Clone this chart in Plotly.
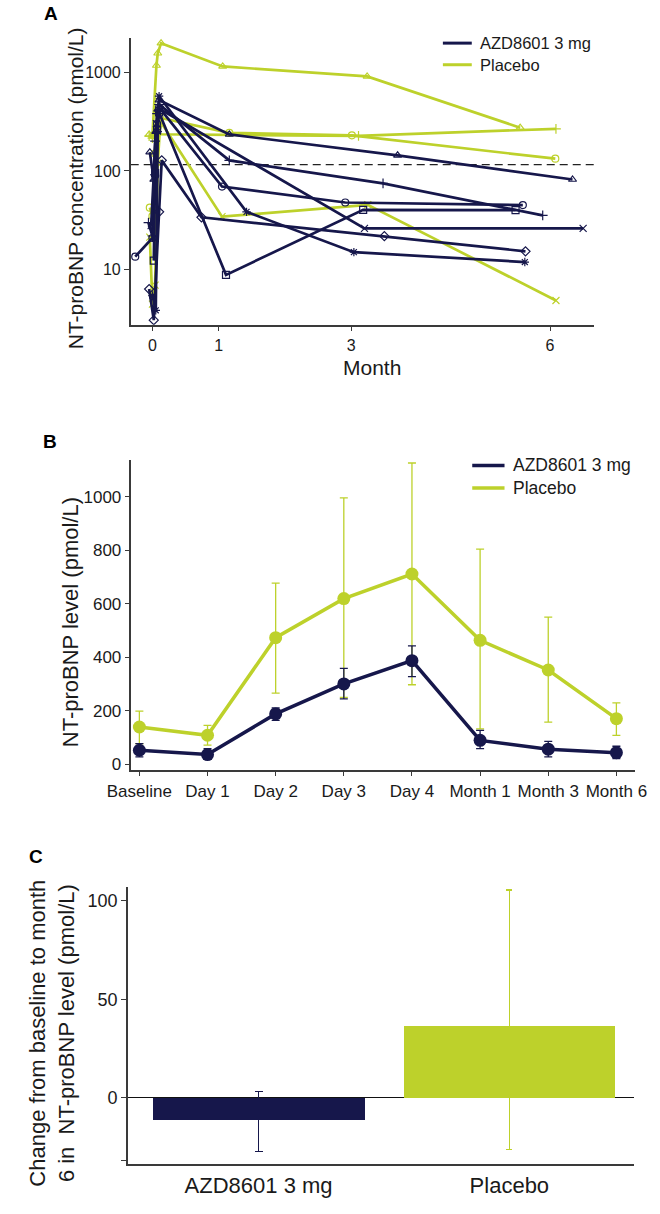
import plotly.graph_objects as go

NAVY = "#16174b"
GREEN = "#bdd12b"
AXIS = "#3a3a3a"
TXT = "#1a1a1a"
FONT = "Liberation Sans, Arial, sans-serif"
W, H = 660, 1214

# ---------------- Panel A: individual NT-proBNP (pmol/L) over months ----------------
azd1_month = [-0.04, 0.02, 0.05, 0.08, 0.10, 1.16, 3.70, 6.34]
azd1_val = [155, 82, 250, 420, 520, 234, 144, 82]
azd2_month = [-0.06, 0.00, 0.04, 0.07, 0.10, 1.16, 3.48, 5.89]
azd2_val = [30, 22, 200, 380, 470, 128, 75, 35.5]
azd3_month = [-0.26, 0.00, 0.04, 0.07, 0.10, 1.05, 2.91, 5.59]
azd3_val = [13.6, 21, 90, 300, 440, 69.6, 48, 45.2]
azd4_month = [0.02, 0.04, 0.07, 0.10, 1.11, 3.18, 5.48]
azd4_val = [12.4, 95, 260, 390, 8.9, 40.5, 40.2]
azd5_month = [-0.02, 0.02, 0.06, 0.12, 3.20, 6.50]
azd5_val = [28, 85, 300, 420, 26.3, 26.3]
azd6_month = [-0.05, 0.02, 0.10, 0.14, 0.74, 3.50, 5.63]
azd6_val = [6.4, 3.1, 38.6, 128, 34, 21.9, 15.4]
azd7_month = [0.00, 0.05, 0.08, 0.10, 1.42, 3.04, 5.62]
azd7_val = [5.5, 3.9, 250, 570, 38.6, 15.1, 12.0]

pbo1_month = [-0.05, 0.00, 0.06, 0.08, 0.13, 1.06, 3.24, 5.55]
pbo1_val = [234, 230, 1165, 1550, 1960, 1140, 903, 274]
pbo2_month = [-0.05, 0.00, 0.05, 0.08, 3.11, 6.09]
pbo2_val = [225, 215, 240, 235, 226, 267]
pbo3_month = [-0.04, 0.00, 0.04, 0.08, 0.11, 1.16, 3.01, 6.08]
pbo3_val = [42.5, 35, 150, 280, 345, 243, 229, 133]
pbo4_month = [-0.04, 0.00, 0.04, 0.08, 0.12, 1.05, 3.25, 6.09]
pbo4_val = [21.4, 4.5, 7, 120, 318, 34.5, 45.5, 4.9]

azd_symbols = ["triangle-up-open", "cross-thin-open", "circle-open", "square-open",
               "x-thin-open", "diamond-open", "asterisk-open"]
pbo_symbols = ["triangle-up-open", "cross-thin-open", "circle-open", "x-thin-open"]

threshold_val = 116
a_xticks = [0, 1, 3, 6]
a_yticks = [10, 100, 1000]

# ---------------- Panel B: mean NT-proBNP level ----------------
b_categories = ["Baseline", "Day 1", "Day 2", "Day 3", "Day 4", "Month 1", "Month 3", "Month 6"]
b_azd_mean = [52, 36, 188, 300, 387, 89, 56, 43]
b_azd_upper = [77, 58, 210, 358, 442, 126, 85, 67]
b_azd_lower = [27, 18, 164, 244, 327, 58, 27, 21]
b_pbo_mean = [139, 108, 473, 619, 711, 463, 352, 170]
b_pbo_upper = [198, 145, 677, 996, 1126, 804, 550, 229]
b_pbo_lower = [77, 71, 266, 250, 297, 132, 157, 108]
b_yticks = [0, 200, 400, 600, 800, 1000]

# ---------------- Panel C: change baseline -> month 6 ----------------
c_groups = ["AZD8601 3 mg", "Placebo"]
c_change = [-11.1, 36.5]
c_upper = [3.3, 105.3]
c_lower = [-27.1, -26.1]
c_yticks = [-32, 0, 50, 100]
c_yticklabels = ["", "0", "50", "100"]


def px(xp):
    return xp / W


def py(yp):
    return 1 - yp / H


fig = go.Figure()

pbo_months = [pbo1_month, pbo2_month, pbo3_month, pbo4_month]
pbo_vals = [pbo1_val, pbo2_val, pbo3_val, pbo4_val]
azd_months = [azd1_month, azd2_month, azd3_month, azd4_month, azd5_month, azd6_month, azd7_month]
azd_vals = [azd1_val, azd2_val, azd3_val, azd4_val, azd5_val, azd6_val, azd7_val]

A_XR = [-0.328, 6.667]
A_YR = [0.446, 3.346]

fig.add_trace(go.Scatter(x=A_XR, y=[threshold_val, threshold_val], mode="lines",
                         line=dict(color="#222222", width=1.2, dash="8px,5px"),
                         xaxis="x", yaxis="y", hoverinfo="skip"))

for m, v, s in zip(pbo_months, pbo_vals, pbo_symbols):
    fig.add_trace(go.Scatter(x=m, y=v, mode="lines+markers",
                             line=dict(color=GREEN, width=2.7),
                             marker=dict(symbol=s, size=7, color=GREEN,
                                         line=dict(color=GREEN, width=1.2)),
                             xaxis="x", yaxis="y"))
for m, v, s in zip(azd_months, azd_vals, azd_symbols):
    fig.add_trace(go.Scatter(x=m, y=v, mode="lines+markers",
                             line=dict(color=NAVY, width=2.7),
                             marker=dict(symbol=s, size=7, color=NAVY,
                                         line=dict(color=NAVY, width=1.2)),
                             xaxis="x", yaxis="y"))

# Panel B traces
fig.add_trace(go.Scatter(
    x=b_categories, y=b_pbo_mean, mode="lines+markers",
    line=dict(color=GREEN, width=3.5),
    marker=dict(symbol="circle", size=13, color=GREEN),
    error_y=dict(type="data", symmetric=False,
                 array=[u - m for u, m in zip(b_pbo_upper, b_pbo_mean)],
                 arrayminus=[m - l for l, m in zip(b_pbo_lower, b_pbo_mean)],
                 color=GREEN, thickness=1.3, width=4),
    xaxis="x2", yaxis="y2"))
fig.add_trace(go.Scatter(
    x=b_categories, y=b_azd_mean, mode="lines+markers",
    line=dict(color=NAVY, width=3.5),
    marker=dict(symbol="circle", size=13, color=NAVY),
    error_y=dict(type="data", symmetric=False,
                 array=[u - m for u, m in zip(b_azd_upper, b_azd_mean)],
                 arrayminus=[m - l for l, m in zip(b_azd_lower, b_azd_mean)],
                 color=NAVY, thickness=1.3, width=4),
    xaxis="x2", yaxis="y2"))

# Panel C traces
c_colors = [NAVY, GREEN]
c_capw = [4, 3]
for g, val, up, lo, col, cw in zip(c_groups, c_change, c_upper, c_lower, c_colors, c_capw):
    fig.add_trace(go.Bar(
        x=[g], y=[val], marker=dict(color=col, line=dict(width=0)), width=0.845,
        error_y=dict(type="data", symmetric=False, array=[up - val], arrayminus=[val - lo],
                     color=col, thickness=1.4, width=cw),
        xaxis="x3", yaxis="y3"))

axis_common = dict(showline=True, linecolor=AXIS, linewidth=1.5, ticks="outside",
                   ticklen=5, tickwidth=1.3, tickcolor=AXIS, showgrid=False, zeroline=False)


def tf(size):
    return dict(family=FONT, color=TXT, size=size)


fig.update_layout(
    width=W, height=H, margin=dict(l=0, r=0, t=0, b=0),
    paper_bgcolor="white", plot_bgcolor="white", showlegend=False,
    font=dict(family=FONT, color=TXT),
    bargap=0,
    xaxis=dict(domain=[px(112), px(603)], range=A_XR, tickvals=a_xticks,
               ticktext=[str(t) for t in a_xticks], anchor="y", tickfont=tf(16), **axis_common),
    yaxis=dict(domain=[py(326), py(38)], type="log", range=A_YR, tickvals=a_yticks,
               ticktext=[str(t) for t in a_yticks], anchor="x", tickfont=tf(16), **axis_common),
    xaxis2=dict(domain=[px(112.8), px(646)], type="category", range=[-0.116, 7.27],
                anchor="y2", tickfont=tf(17), **axis_common),
    yaxis2=dict(domain=[py(772.7), py(461.7)], range=[-20, 1138], tickvals=b_yticks,
                anchor="x2", tickfont=tf(17), **axis_common),
    xaxis3=dict(domain=[px(109), px(644.9)], type="category", range=[-0.521, 1.496],
                anchor="y3", tickfont=tf(22),
                **{**axis_common, "ticks": ""}),
    yaxis3=dict(domain=[py(1169.3), py(890.7)], range=[-33.8, 106.9], tickvals=c_yticks,
                ticktext=c_yticklabels, anchor="x3", tickfont=tf(18),
                **{**axis_common, "zeroline": True, "zerolinecolor": "#111111",
                   "zerolinewidth": 1.2}),
)

ann = []
shapes = []
for letter, xp, yp in [("A", 27.5, 14), ("B", 26.5, 443.5), ("C", 12, 860)]:
    ann.append(dict(text="<b>%s</b>" % letter, x=px(xp), y=py(yp), xref="paper", yref="paper",
                    xanchor="center", yanchor="middle", showarrow=False,
                    font=dict(family=FONT, size=19, color="#000")))
ann.append(dict(text="NT-proBNP concentration (pmol/L)", x=px(53), y=py(189), xref="paper",
                yref="paper", textangle=-90, showarrow=False, xanchor="center", yanchor="middle",
                font=tf(21)))
ann.append(dict(text="Month", x=px(367.5), y=py(369), xref="paper", yref="paper",
                showarrow=False, xanchor="center", yanchor="middle", font=tf(21)))
ann.append(dict(text="NT-proBNP level (pmol/L)", x=px(48.5), y=py(625), xref="paper",
                yref="paper", textangle=-90, showarrow=False, xanchor="center", yanchor="middle",
                font=tf(22)))
ann.append(dict(text="Change from baseline to month<br>6 in\u00a0\u00a0NT-proBNP level (pmol/L)",
                x=px(28.5), y=py(1037), xref="paper", yref="paper", textangle=-90,
                showarrow=False, xanchor="center", yanchor="middle", font=tf(22)))

legA = [("AZD8601 3 mg", NAVY, 43.3), ("Placebo", GREEN, 65.0)]
for label, col, yp in legA:
    shapes.append(dict(type="line", xref="paper", yref="paper", x0=px(442.7), x1=px(473.3),
                       y0=py(yp), y1=py(yp), line=dict(color=col, width=3)))
    ann.append(dict(text=label, x=px(480), y=py(yp), xref="paper", yref="paper",
                    xanchor="left", yanchor="middle", showarrow=False, font=tf(16.5)))
legB = [("AZD8601 3 mg", NAVY, 467.3), ("Placebo", GREEN, 490.0)]
for label, col, yp in legB:
    shapes.append(dict(type="line", xref="paper", yref="paper", x0=px(473.8), x1=px(508),
                       y0=py(yp), y1=py(yp), line=dict(color=col, width=3.5)))
    ann.append(dict(text=label, x=px(515), y=py(yp), xref="paper", yref="paper",
                    xanchor="left", yanchor="middle", showarrow=False, font=tf(17.5)))

fig.update_layout(annotations=ann, shapes=shapes)
fig.write_html("out.html", config={"displayModeBar": False},
               post_script="document.body.style.margin='0';document.body.style.overflow='hidden';")
